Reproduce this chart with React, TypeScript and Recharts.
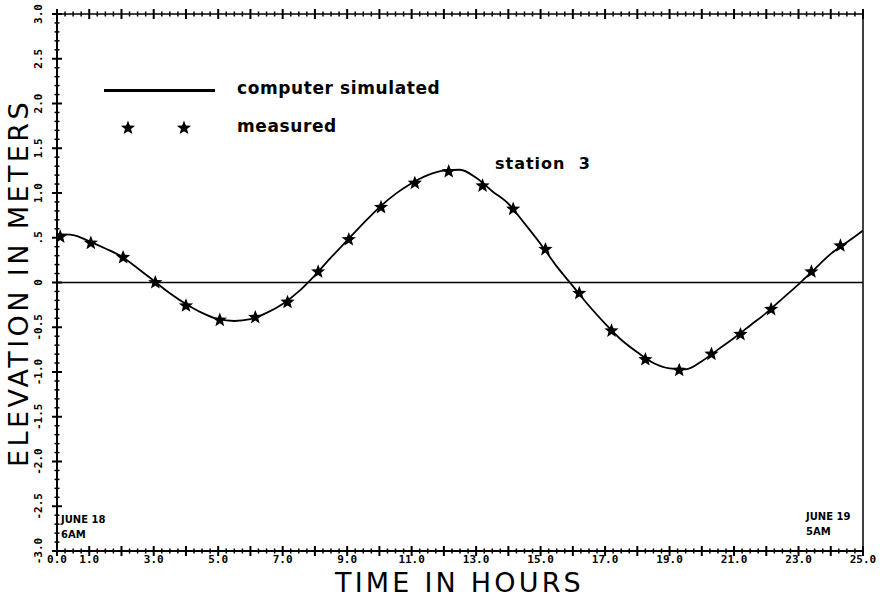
import { ComposedChart, Line, Scatter, XAxis, YAxis, ReferenceLine } from "recharts";

const SIM_HOURS = [
  0, 0.5, 1, 1.5, 2, 2.5, 3, 3.5, 4, 4.5, 5, 5.5, 6, 6.5, 7, 7.5, 8, 8.5, 9, 9.5, 10, 10.5, 11, 11.5, 12,
  12.5, 13, 13.5, 14, 14.5, 15, 15.5, 16, 16.5, 17, 17.5, 18, 18.5, 19, 19.5, 20, 20.5, 21, 21.5, 22, 22.5,
  23, 23.5, 24, 24.5, 25,
];
const SIM_ELEV = [
  0.54, 0.53, 0.46, 0.38, 0.29, 0.16, 0.02, -0.12, -0.24, -0.34, -0.41, -0.43, -0.41, -0.34, -0.24, -0.1,
  0.08, 0.28, 0.47, 0.66, 0.84, 0.99, 1.11, 1.2, 1.25, 1.26, 1.17, 1.02, 0.88, 0.66, 0.43, 0.18, -0.04,
  -0.26, -0.46, -0.64, -0.78, -0.9, -0.96, -0.97, -0.88, -0.75, -0.62, -0.48, -0.34, -0.18, -0.02, 0.15,
  0.32, 0.45, 0.58,
];

const MEAS_HOURS = [
  0.1, 1.05, 2.05, 3.05, 4.0, 5.05, 6.15, 7.15, 8.1, 9.05, 10.05, 11.1, 12.15, 13.2, 14.15, 15.15, 16.2,
  17.2, 18.25, 19.3, 20.3, 21.2, 22.15, 23.4, 24.3,
];
const MEAS_ELEV = [
  0.51, 0.44, 0.28, 0.0, -0.26, -0.42, -0.39, -0.22, 0.12, 0.48, 0.84, 1.11, 1.24, 1.08, 0.82, 0.37, -0.12,
  -0.54, -0.86, -0.98, -0.8, -0.58, -0.3, 0.12, 0.41,
];

const X_LABEL_HOURS = [0, 1, 3, 5, 7, 9, 11, 13, 15, 17, 19, 21, 23, 25];
const X_LABELS = ["0.0", "1.0", "3.0", "5.0", "7.0", "9.0", "11.0", "13.0", "15.0", "17.0", "19.0", "21.0", "23.0", "25.0"];
const Y_LABEL_VALUES = [3, 2.5, 2, 1.5, 1, 0.5, 0, -0.5, -1, -1.5, -2, -2.5, -3];
const Y_LABELS = ["3.0", "2.5", "2.0", "1.5", "1.0", ".5", "0", "-0.5", "-1.0", "-1.5", "-2.0", "-2.5", "-3.0"];

const simData = SIM_HOURS.map((h, i) => ({ h, v: SIM_ELEV[i] }));
const measData = MEAS_HOURS.map((h, i) => ({ h, v: MEAS_ELEV[i] }));

// tick positions (minor marks), not data
const xTicks = Array.from({ length: 101 }, (_, i) => i * 0.25);
const yTicks = Array.from({ length: 61 }, (_, i) => Math.round((-3 + i * 0.1) * 10) / 10);

const W = 880;
const H = 597;
const LEFT = 57;
const RIGHT = 863;
const TOP = 14;
const BOTTOM = 551;

const TICK_FONT = "'DejaVu Sans Mono', monospace";
const near = (a: number, b: number) => Math.abs(a - b) < 1e-6;

function XTick(props: any) {
  const { x, payload, side } = props;
  const v = payload.value;
  const major = near(v, Math.round(v));
  const yAxis = side === "top" ? TOP : BOTTOM;
  const len = major ? 5 : 2.5;
  const idx = X_LABEL_HOURS.findIndex((t) => near(t, v));
  return (
    <g>
      <line x1={x} x2={x} y1={yAxis - len} y2={yAxis + len} stroke="#000" strokeWidth={major ? 2 : 1.5} />
      {side !== "top" && idx >= 0 && (
        <text x={x} y={563} textAnchor="middle" fontFamily={TICK_FONT} fontWeight="bold" fontSize={11} fill="#000">
          {X_LABELS[idx]}
        </text>
      )}
    </g>
  );
}

function YTick(props: any) {
  const { y, payload, side } = props;
  const v = payload.value;
  const major = near(v * 2, Math.round(v * 2));
  const xAxis = side === "right" ? RIGHT : LEFT;
  const len = major ? 5 : 2.5;
  const idx = Y_LABEL_VALUES.findIndex((t) => near(t, v));
  return (
    <g>
      <line x1={xAxis - len} x2={xAxis + len} y1={y} y2={y} stroke="#000" strokeWidth={major ? 2 : 1.5} />
      {side !== "right" && idx >= 0 && (
        <text
          x={42}
          y={y}
          transform={`rotate(-90, 42, ${y})`}
          textAnchor="middle"
          fontFamily={TICK_FONT}
          fontWeight="bold"
          fontSize={11}
          fill="#000"
        >
          {Y_LABELS[idx]}
        </text>
      )}
    </g>
  );
}

function Star(props: any) {
  const { cx, cy } = props;
  const pts: string[] = [];
  for (let i = 0; i < 10; i++) {
    const r = i % 2 === 0 ? 7.5 : 3.2;
    const a = -Math.PI / 2 + (i * Math.PI) / 5;
    pts.push(`${cx + r * Math.cos(a)},${cy + r * Math.sin(a)}`);
  }
  return <polygon points={pts.join(" ")} fill="#000" />;
}

function LegendStar({ x, y }: { x: number; y: number }) {
  return (
    <svg width={16} height={16} style={{ position: "absolute", left: x - 8, top: y - 8 }}>
      <Star cx={8} cy={8} />
    </svg>
  );
}

const textStyle = {
  position: "absolute" as const,
  fontFamily: "'DejaVu Sans', sans-serif",
  fontWeight: "bold" as const,
  color: "#000",
  whiteSpace: "nowrap" as const,
};

const titleStyle = {
  position: "absolute" as const,
  fontFamily: "'DejaVu Sans', sans-serif",
  fontWeight: 400,
  fontSize: 27,
  lineHeight: "22px",
  color: "#000",
  whiteSpace: "nowrap" as const,
};

export default function App() {
  return (
    <div style={{ position: "absolute", left: 0, top: 0, width: W, height: H, background: "#fff", overflow: "hidden" }}>
      <ComposedChart width={W} height={H} data={simData} margin={{ top: 0, right: 0, bottom: 0, left: 0 }}>
        <XAxis
          dataKey="h"
          type="number"
          domain={[0, 25]}
          ticks={xTicks}
          interval={0}
          height={H - BOTTOM}
          axisLine={{ stroke: "#000", strokeWidth: 2 }}
          tickLine={false}
          tick={(p: any) => <XTick {...p} side="bottom" />}
          allowDataOverflow
        />
        <XAxis
          xAxisId="top"
          orientation="top"
          dataKey="h"
          type="number"
          domain={[0, 25]}
          ticks={xTicks}
          interval={0}
          height={TOP}
          axisLine={{ stroke: "#000", strokeWidth: 1.5 }}
          tickLine={false}
          tick={(p: any) => <XTick {...p} side="top" />}
        />
        <YAxis
          type="number"
          domain={[-3, 3]}
          ticks={yTicks}
          interval={0}
          width={LEFT}
          axisLine={{ stroke: "#000", strokeWidth: 2 }}
          tickLine={false}
          tick={(p: any) => <YTick {...p} side="left" />}
          allowDataOverflow
        />
        <YAxis
          yAxisId="right"
          orientation="right"
          type="number"
          domain={[-3, 3]}
          ticks={yTicks}
          interval={0}
          width={W - RIGHT}
          axisLine={{ stroke: "#000", strokeWidth: 1.5 }}
          tickLine={false}
          tick={(p: any) => <YTick {...p} side="right" />}
        />
        <ReferenceLine y={0} stroke="#000" strokeWidth={1.5} />
        <Line
          data={simData}
          dataKey="v"
          type="monotone"
          stroke="#000"
          strokeWidth={1.8}
          dot={false}
          activeDot={false}
          isAnimationActive={false}
        />
        <Scatter data={measData} dataKey="v" shape={<Star />} isAnimationActive={false} />
      </ComposedChart>

      <div style={{ position: "absolute", left: 104, top: 89, width: 111, height: 3, background: "#000" }} />
      <div style={{ ...textStyle, left: 237, top: 78, fontSize: 17, letterSpacing: 0.6 }}>computer simulated</div>
      <LegendStar x={128} y={128} />
      <LegendStar x={184} y={128} />
      <div style={{ ...textStyle, left: 237, top: 116, fontSize: 17, letterSpacing: 0.6 }}>measured</div>
      <div style={{ ...textStyle, left: 495, top: 154, fontSize: 16, letterSpacing: 1 }}>station&nbsp;&nbsp;3</div>

      <div style={{ ...textStyle, left: 61, top: 512, fontSize: 10, lineHeight: "15px" }}>
        JUNE 18
        <br />
        6AM
      </div>
      <div style={{ ...textStyle, left: 806, top: 509, fontSize: 10, lineHeight: "15px" }}>
        JUNE 19
        <br />
        5AM
      </div>

      <div style={{ ...titleStyle, left: 335, top: 572, letterSpacing: 3.2 }}>TIME IN HOURS</div>
      <div
        style={{
          ...titleStyle,
          left: 19,
          top: 283,
          letterSpacing: 3.4,
          transform: "translate(-50%, -50%) rotate(-90deg)",
        }}
      >
        ELEVATION IN METERS
      </div>
    </div>
  );
}
